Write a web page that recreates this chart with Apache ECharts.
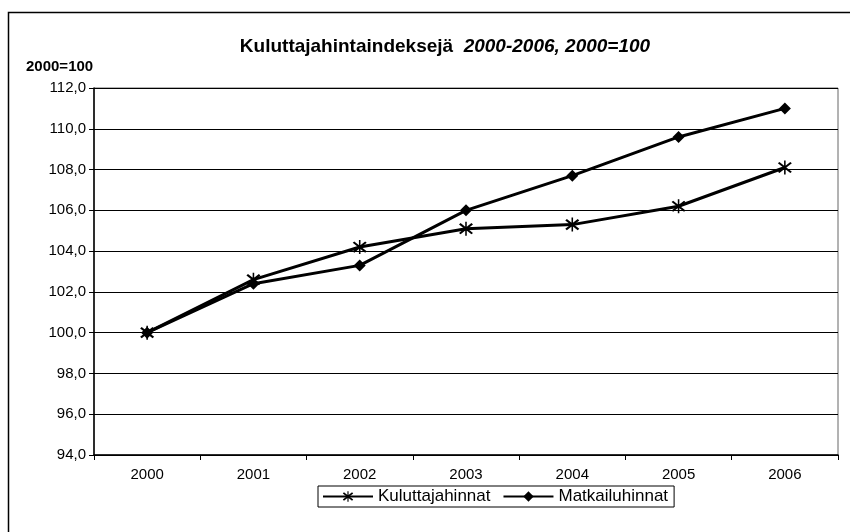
<!DOCTYPE html>
<html>
<head>
<meta charset="utf-8">
<script src="https://cdn.jsdelivr.net/npm/echarts@6/dist/echarts.min.js"></script>
<style>
    html, body { margin: 0; padding: 0; background: #fff; }
    #chart { width: 850px; height: 532px; }
</style>
</head>
<body>
<div id="chart"></div>
<script>
// data
var years = ['2000', '2001', '2002', '2003', '2004', '2005', '2006'];
var kuluttajahinnat = [100.0, 102.6, 104.2, 105.1, 105.3, 106.2, 108.1];
var matkailuhinnat = [100.0, 102.4, 103.3, 106.0, 107.7, 109.6, 111.0];
var yMin = 94, yMax = 112, yStep = 2;

// tähti-merkki (asterisk)
var starPath = 'path://M9,0 L11,0 L11,20 L9,20 Z M1,4 L3,2 L19,16 L17,18 Z M17,2 L19,4 L3,18 L1,16 Z';

var myChart = echarts.init(document.getElementById('chart'));
var font = 'Liberation Sans, Arial, sans-serif';

var option = {
    animation: false,
    backgroundColor: '#fff',
    textStyle: { fontFamily: font },
    title: [{
        text: '{a|Kuluttajahintaindeksejä  }{b|2000-2006, 2000=100}',
        left: 440,
        top: 32,
        textAlign: 'center',
        textStyle: {
            fontFamily: font,
            rich: {
                a: { fontSize: 19, fontWeight: 'bold', color: '#000', fontFamily: font },
                b: { fontSize: 19, fontWeight: 'bold', fontStyle: 'italic', color: '#000', fontFamily: font }
            }
        }
    }, {
        text: '2000=100',
        left: 21,
        top: 54,
        textStyle: { fontSize: 15, fontWeight: 'bold', color: '#000', fontFamily: font }
    }],
    graphic: [{
        type: 'rect',
        shape: { x: 8.5, y: 12.5, width: 900, height: 600 },
        style: { fill: 'none', stroke: '#000', lineWidth: 1.5 },
        silent: true
    }],
    legend: {
        bottom: 25,
        left: 318,
        itemWidth: 50,
        itemHeight: 13,
        itemGap: 12,
        padding: [2, 6, 2, 4],
        borderColor: '#000',
        borderWidth: 1,
        textStyle: { fontSize: 17, color: '#000', fontFamily: font },
        data: ['Kuluttajahinnat', 'Matkailuhinnat']
    },
    grid: {
        left: 94,
        right: 12,
        top: 88,
        bottom: 77,
        show: true,
        borderColor: '#666',
        borderWidth: 1
    },
    xAxis: {
        type: 'category',
        data: years,
        boundaryGap: true,
        axisLine: { lineStyle: { color: '#000', width: 1.5 } },
        axisTick: { show: true, length: 5, lineStyle: { color: '#000' } },
        axisLabel: { fontSize: 15, color: '#000', margin: 12, fontFamily: font }
    },
    yAxis: {
        type: 'value',
        min: yMin,
        max: yMax,
        interval: yStep,
        axisLine: { show: true, lineStyle: { color: '#000', width: 1.5 } },
        axisTick: { show: true, length: 5, lineStyle: { color: '#000' } },
        axisLabel: {
            fontSize: 15,
            color: '#000',
            margin: 8,
            fontFamily: font,
            formatter: function(v) { return v.toFixed(1).replace('.', ','); }
        },
        splitLine: { lineStyle: { color: '#000', width: 1 } }
    },
    series: [{
        name: 'Kuluttajahinnat',
        type: 'line',
        data: kuluttajahinnat,
        symbol: starPath,
        symbolSize: 14,
        lineStyle: { color: '#000', width: 3 },
        itemStyle: { color: '#000' }
    }, {
        name: 'Matkailuhinnat',
        type: 'line',
        data: matkailuhinnat,
        symbol: 'diamond',
        symbolSize: 12,
        lineStyle: { color: '#000', width: 3 },
        itemStyle: { color: '#000' }
    }]
};

myChart.setOption(option);
</script>
</body>
</html>
